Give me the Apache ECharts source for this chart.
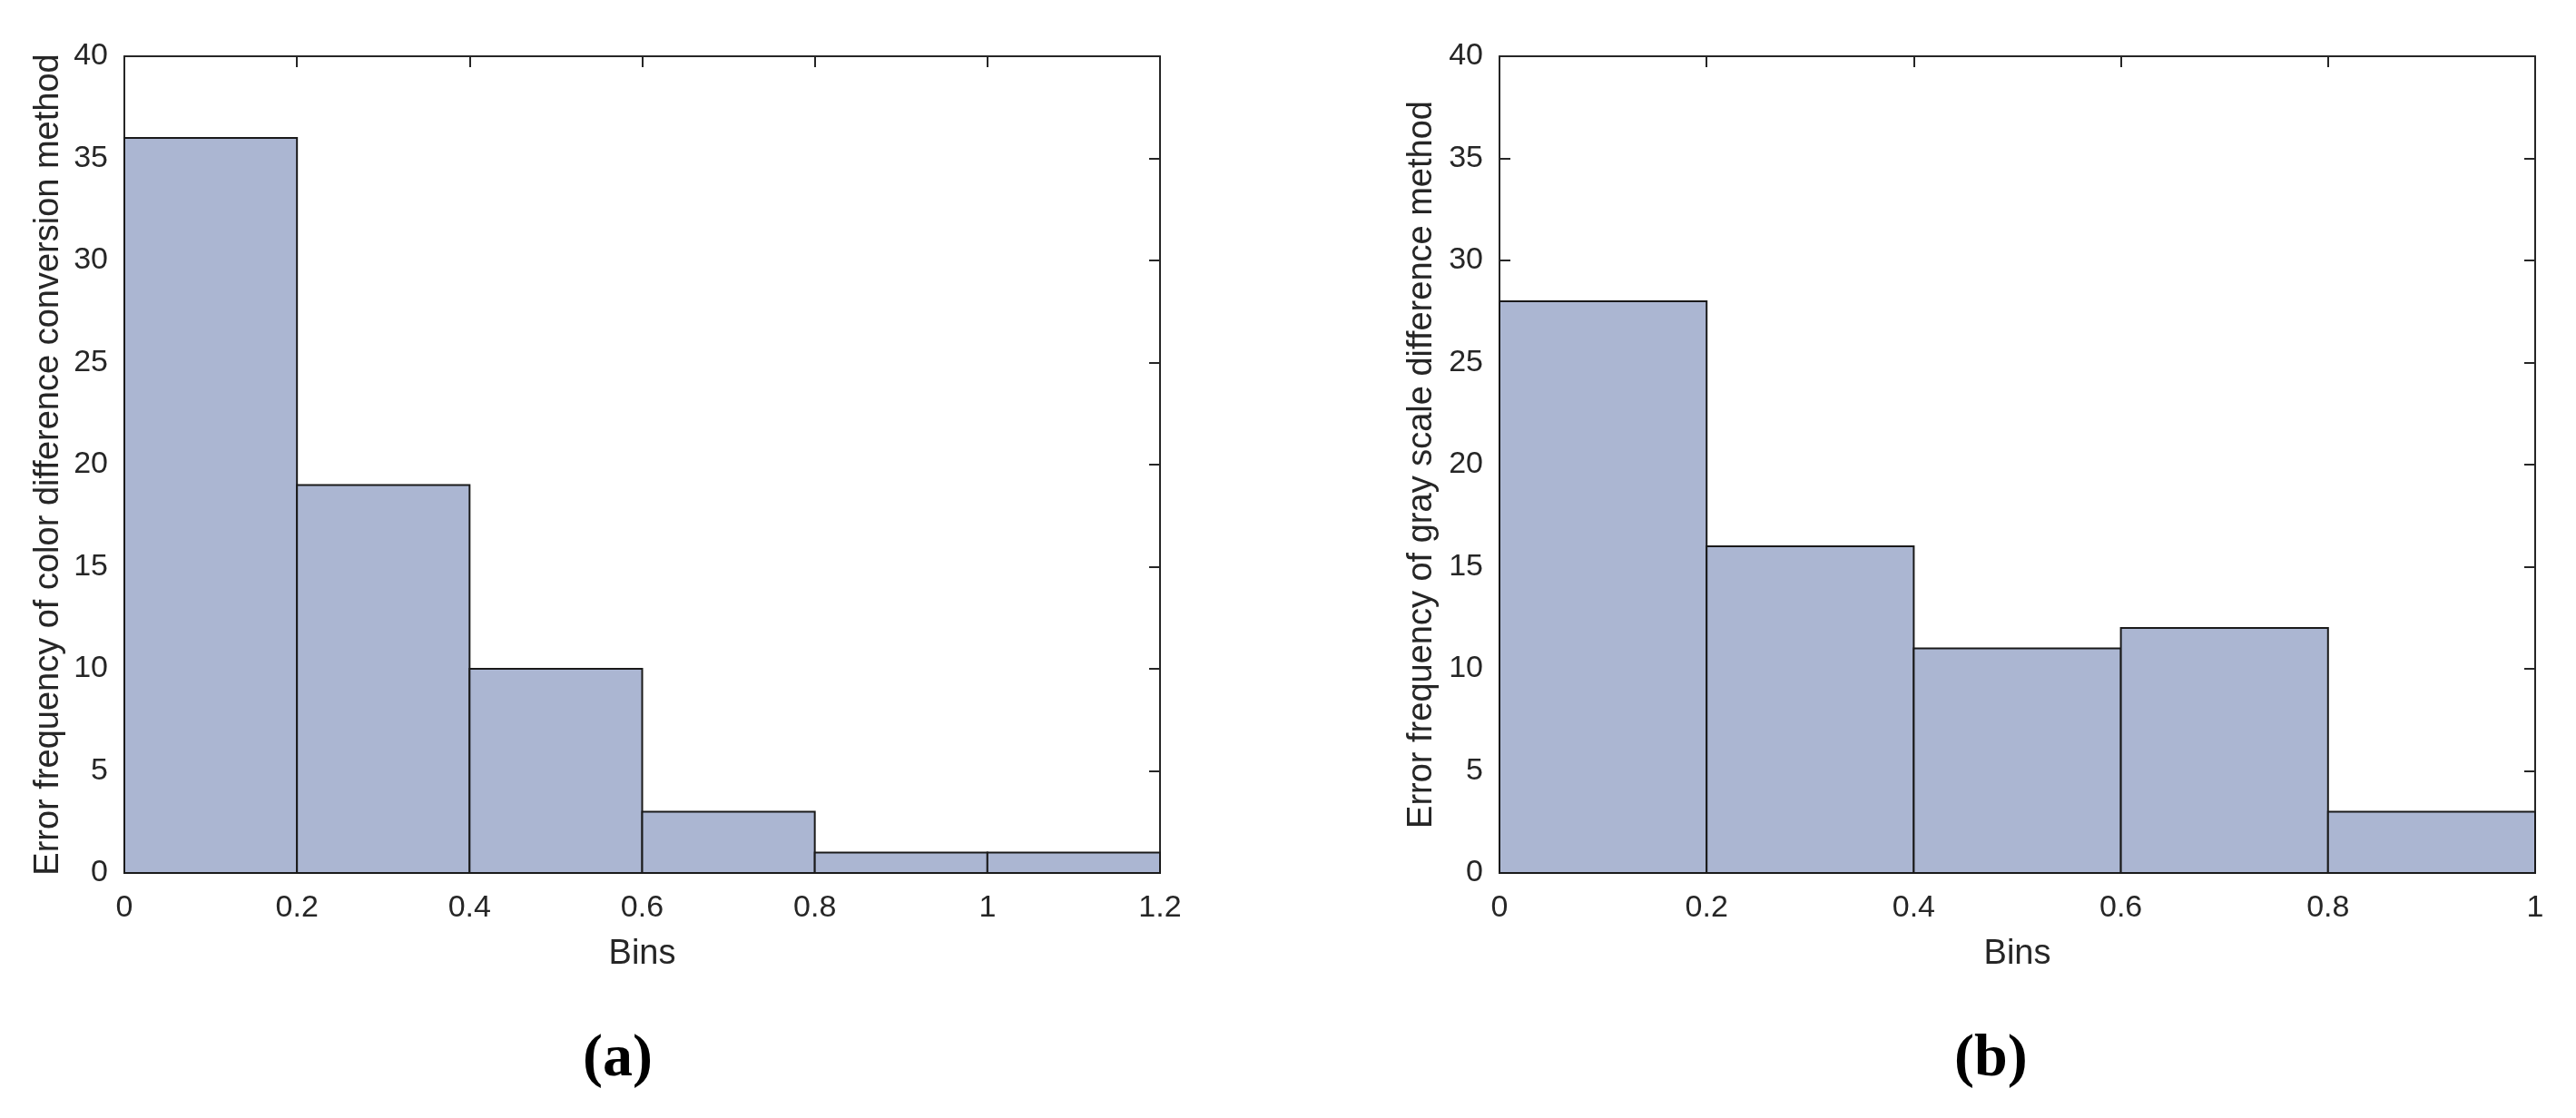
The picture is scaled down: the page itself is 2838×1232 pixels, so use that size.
<!DOCTYPE html>
<html>
<head>
<meta charset="utf-8">
<script src="https://cdn.jsdelivr.net/npm/echarts@6/dist/echarts.min.js"></script>
<style>html,body{margin:0;padding:0;background:#fff;}#c{width:2838px;height:1232px;}</style>
</head>
<body>
<div id="c"></div>
<script>
// Data
const binEdgesA = [0, 0.2, 0.4, 0.6, 0.8, 1.0, 1.2];
const countsA = [36, 19, 10, 3, 1, 1];
const binEdgesB = [0, 0.2, 0.4, 0.6, 0.8, 1.0];
const countsB = [28, 16, 11, 12, 3];
const yLabelA = 'Error frequency of color difference conversion method';
const yLabelB = 'Error frequency of gray scale difference method';
const xLabel = 'Bins';
const yTicks = [0, 5, 10, 15, 20, 25, 30, 35, 40];

function toBins(edges, counts) {
  return counts.map((c, i) => [edges[i], edges[i + 1], c]);
}

const FILL = '#abb6d2';
const EDGE = '#1a1a1a';
const AX = '#262626';
const FONT = 'Liberation Sans, Arial, sans-serif';

function renderHist(params, api) {
  const p0 = api.coord([api.value(0), 0]);
  const p1 = api.coord([api.value(1), api.value(2)]);
  return {
    type: 'rect',
    shape: { x: p0[0], y: p1[1], width: p1[0] - p0[0], height: p0[1] - p1[1] },
    style: { fill: FILL, stroke: EDGE, lineWidth: 2 }
  };
}

function xAxes(gi, max) {
  const base = {
    gridIndex: gi, type: 'value', min: 0, max: max, interval: 0.2,
    splitLine: { show: false },
    axisLine: { show: true, onZero: false, lineStyle: { color: AX, width: 2 } },
    axisTick: { show: true, inside: true, length: 12, lineStyle: { color: AX, width: 2 } }
  };
  return [
    Object.assign({}, base, {
      position: 'bottom', name: xLabel, nameLocation: 'middle', nameGap: 71,
      nameTextStyle: { fontFamily: FONT, fontSize: 38, color: AX },
      axisLabel: { fontFamily: FONT, fontSize: 34, color: AX, margin: 22,
        formatter: v => (Math.round(v * 10) / 10).toString() }
    }),
    Object.assign({}, base, { position: 'top', axisLabel: { show: false } })
  ];
}

function yAxes(gi, name, gap) {
  const base = {
    gridIndex: gi, type: 'value', min: yTicks[0], max: yTicks[yTicks.length - 1], interval: 5,
    splitLine: { show: false },
    axisLine: { show: true, onZero: false, lineStyle: { color: AX, width: 2 } },
    axisTick: { show: true, inside: true, length: 12, lineStyle: { color: AX, width: 2 } }
  };
  return [
    Object.assign({}, base, {
      position: 'left', name: name, nameLocation: 'middle', nameGap: gap,
      nameTextStyle: { fontFamily: FONT, fontSize: 38, color: AX },
      axisLabel: { fontFamily: FONT, fontSize: 34, color: AX, margin: 18 }
    }),
    Object.assign({}, base, { position: 'right', axisLabel: { show: false } })
  ];
}

const chart = echarts.init(document.getElementById('c'));
chart.setOption({
  backgroundColor: '#fff',
  animation: false,
  grid: [
    { left: 137, right: 2838 - 1278, top: 62, bottom: 1232 - 962 },
    { left: 1652, right: 2838 - 2793, top: 62, bottom: 1232 - 962 }
  ],
  xAxis: [].concat(xAxes(0, 1.2), xAxes(1, 1.0)),
  yAxis: [].concat(yAxes(0, yLabelA, 64), yAxes(1, yLabelB, 66)),
  series: [
    { type: 'custom', xAxisIndex: 0, yAxisIndex: 0, renderItem: renderHist,
      data: toBins(binEdgesA, countsA), encode: { x: [0, 1], y: 2 } },
    { type: 'custom', xAxisIndex: 2, yAxisIndex: 2, renderItem: renderHist,
      data: toBins(binEdgesB, countsB), encode: { x: [0, 1], y: 2 } }
  ],
  graphic: [
    { type: 'text', left: 680 - 38, top: 1135,
      style: { text: '(a)', font: 'bold 66px "Liberation Serif", "Times New Roman", serif', fill: '#000' } },
    { type: 'text', left: 2195 - 42, top: 1135,
      style: { text: '(b)', font: 'bold 66px "Liberation Serif", "Times New Roman", serif', fill: '#000' } }
  ]
});
</script>
</body>
</html>
